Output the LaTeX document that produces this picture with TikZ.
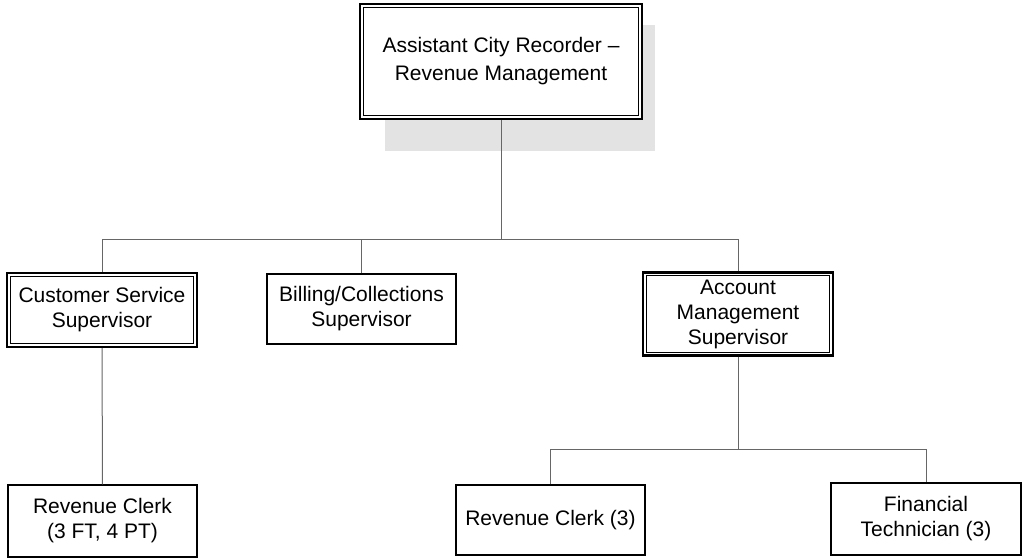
\documentclass[tikz,border=0pt]{standalone}
\usepackage{fontspec}
\setmainfont{Liberation Sans}
\begin{document}
\begin{tikzpicture}[x=1pt,y=-1pt,
  box/.style={draw=black, line width=1.3pt, fill=white, align=center, inner sep=0pt,
    font=\fontsize{21}{25}\selectfont},
  dbox/.style={box, line width=2.4pt},
  inner/.style={draw=black, line width=1.1pt},
  conn/.style={draw=black!60, line width=1pt}]
\useasboundingbox (0,0) rectangle (1024,559);
% shadow of top box
\fill[black!11] (385,25) rectangle (655,151);
% nodes
\node[dbox, minimum width=282pt, minimum height=115pt, font=\fontsize{21}{28}\selectfont] (top) at (501,61.5)
  {Assistant City Recorder --\\Revenue Management};
\node[dbox, minimum width=190pt, minimum height=74pt] (cs) at (102,310) {Customer Service\\Supervisor};
\node[box, minimum width=189pt, minimum height=70pt] (bc) at (361.5,309) {Billing/Collections\\Supervisor};
\node[dbox, minimum width=190pt, minimum height=83pt] (am) at (738,314) {Account\\Management\\Supervisor};
\node[box, minimum width=189pt, minimum height=72pt] (rc1) at (102.5,521) {Revenue Clerk\\(3 FT, 4 PT)};
\node[box, minimum width=189pt, minimum height=70pt] (rc3) at (550.5,520) {Revenue Clerk (3)};
\node[box, minimum width=190pt, minimum height=72pt] (ft) at (926,519) {Financial\\Technician (3)};
% inner borders of double boxes
\foreach \n in {top,cs,am}{
  \draw[inner] ([shift={(4.5pt,-4.5pt)}]\n.north west) rectangle ([shift={(-4.5pt,4.5pt)}]\n.south east);
}
% bus coordinates
\coordinate (bus2) at (0,239);
\coordinate (bus3) at (0,449);
% connectors
\draw[conn] (top.south) -- (top.south |- bus2);
\draw[conn] (cs.north) -- (cs.north |- bus2) -- (am.north |- bus2) -- (am.north);
\draw[conn] (bc.north) -- (bc.north |- bus2);
\draw[conn] (cs.south) -- (rc1.north);
\draw[conn] (am.south) -- (am.south |- bus3);
\draw[conn] (rc3.north) -- (rc3.north |- bus3) -- (ft.north |- bus3) -- (ft.north);
\end{tikzpicture}
\end{document}
